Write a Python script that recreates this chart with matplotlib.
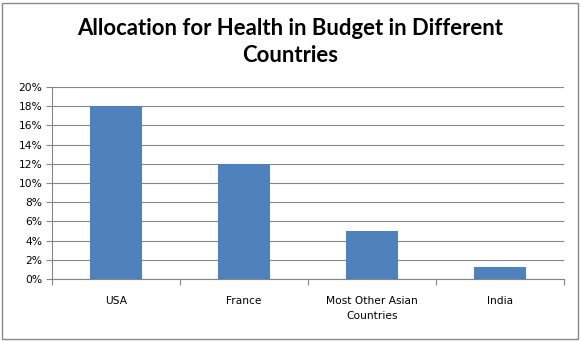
import matplotlib
matplotlib.use("Agg")
import matplotlib.pyplot as plt
from matplotlib.patches import Rectangle
from matplotlib.ticker import FuncFormatter, MultipleLocator

categories = ["USA", "France", "Most Other Asian\nCountries", "India"]
shares = [0.18, 0.12, 0.05, 0.012]
title = "Allocation for Health in Budget in Different\nCountries"

W, H = 581, 341
fig = plt.figure(figsize=(W / 100, H / 100), dpi=100)
fig.patch.set_facecolor("white")

# outer chart border
fig.patches.append(Rectangle((2 / W, 2 / H), (W - 5) / W, (H - 5) / H,
                             transform=fig.transFigure, fill=False,
                             edgecolor="#888888", linewidth=1.0))

left, right, top, bottom = 52, 564, 87, 279
ax = fig.add_axes([left / W, 1 - bottom / H, (right - left) / W, (bottom - top) / H])

x = range(len(categories))
ax.bar(x, shares, width=0.4, color="#4f81bd", zorder=3)

ax.set_xlim(-0.5, len(categories) - 0.5)
ax.set_ylim(0, 0.20)
ax.yaxis.set_major_locator(MultipleLocator(0.02))
ax.yaxis.set_major_formatter(FuncFormatter(lambda v, _: f"{round(v * 100)}%"))
ax.grid(axis="y", color="#868686", linewidth=0.8, zorder=0)

for s in ["top", "right"]:
    ax.spines[s].set_visible(False)
for s in ["left", "bottom"]:
    ax.spines[s].set_color("#868686")
    ax.spines[s].set_linewidth(0.8)

ax.set_xticks(x)
ax.set_xticklabels(categories, fontsize=7.7, fontfamily="DejaVu Sans", linespacing=1.7)
ax.tick_params(axis="x", length=0, pad=12)
# category separator ticks on the x axis
ax.set_xticks([i - 0.5 for i in range(len(categories) + 1)], minor=True)
ax.tick_params(axis="x", which="minor", length=4, color="#868686", width=0.8)
ax.tick_params(axis="y", labelsize=7.7, length=4, color="#868686", width=0.8, pad=3)
for lbl in ax.get_yticklabels():
    lbl.set_fontfamily("DejaVu Sans")

fig.text(0.5, 1 - 42 / H, title, ha="center", va="center", fontsize=15.9,
         fontweight="bold", fontfamily="Lato", linespacing=1.3)

fig.savefig("out.png", dpi=100)
